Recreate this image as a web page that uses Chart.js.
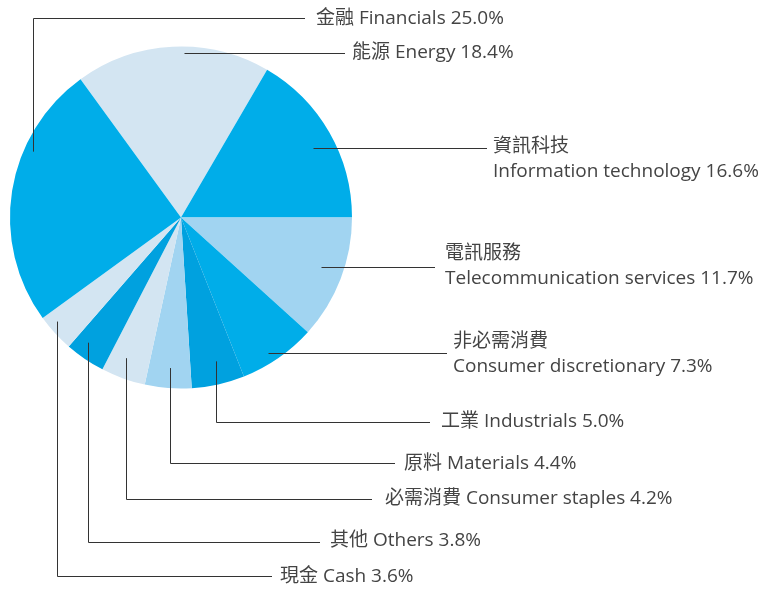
<!DOCTYPE html>
<html>
<head>
<meta charset="utf-8">
<script src="https://cdn.jsdelivr.net/npm/chart.js@4"></script>
<style>
  html, body { margin: 0; padding: 0; background: #fff; }
  #wrap { width: 776px; height: 589px; }
</style>
</head>
<body>
<div id="wrap"><canvas id="js-chart" width="776" height="589"></canvas></div>
<script>
// данные по секторам, по часовой стрелке начиная с Energy
const sectorsZh = ['能源', '資訊科技', '電訊服務', '非必需消費', '工業', '原料', '必需消費', '其他', '現金', '金融'];
const sectorsEn = ['Energy', 'Information technology', 'Telecommunication services', 'Consumer discretionary',
  'Industrials', 'Materials', 'Consumer staples', 'Others', 'Cash', 'Financials'];
const weights = [18.4, 16.6, 11.7, 7.3, 5.0, 4.4, 4.2, 3.8, 3.6, 25.0];

const BRIGHT = '#00ade9';
const DEEP = '#00a1df';
const SOFT = '#a1d4f1';
const PALE = '#d3e5f2';
const colors = [PALE, BRIGHT, SOFT, BRIGHT, DEEP, SOFT, PALE, DEEP, PALE, BRIGHT];

// раскладка подписей: где текст, где линия, откуда тянуть выноску
const labelLayout = [
  { x: 352, y: 53, lineY: 53, lineEnd: 345, frac: 0.96, shift: 4, elbow: false, twoLines: false },
  { x: 493, y: 147, lineY: 148, lineEnd: 487, frac: 0.87, shift: 2, elbow: false, twoLines: true },
  { x: 445, y: 254, lineY: 267, lineEnd: 435, frac: 0.87, shift: -1, elbow: false, twoLines: true },
  { x: 453, y: 342, lineY: 353, lineEnd: 447, frac: 0.94, shift: 2, elbow: false, twoLines: true },
  { x: 441, y: 422, lineY: 422, lineEnd: 430, frac: 0.866, shift: -1.1, elbow: true, twoLines: false },
  { x: 404, y: 464, lineY: 463, lineEnd: 395, frac: 0.883, shift: 0, elbow: true, twoLines: false },
  { x: 385, y: 499, lineY: 499, lineEnd: 372, frac: 0.883, shift: 1.5, elbow: true, twoLines: false },
  { x: 330, y: 541, lineY: 542, lineEnd: 320, frac: 0.912, shift: 2.4, elbow: true, twoLines: false },
  { x: 280, y: 577, lineY: 576, lineEnd: 272, frac: 0.947, shift: 2.5, elbow: true, twoLines: false },
  { x: 316, y: 19, lineY: 18, lineEnd: 305, frac: 0.947, shift: 15, elbow: true, twoLines: false },
];

const FONT = '19px "Open Sans", "Noto Sans CJK TC", sans-serif';

// плагин выносок
const leaderPlugin = {
  id: 'leaders',
  afterDatasetsDraw(chart) {
    const ctx = chart.ctx;
    const arcs = chart.getDatasetMeta(0).data;
    ctx.save();
    ctx.strokeStyle = '#333';
    ctx.lineWidth = 1;
    ctx.fillStyle = '#444';
    ctx.font = FONT;
    ctx.textBaseline = 'middle';
    ctx.textAlign = 'left';
    arcs.forEach((arc, i) => {
      const p = arc.getProps(['x', 'y', 'startAngle', 'endAngle', 'outerRadius'], true);
      const lay = labelLayout[i];
      const mid = (p.startAngle + p.endAngle) / 2 + lay.shift * Math.PI / 180;
      const ax = Math.round(p.x + Math.cos(mid) * p.outerRadius * lay.frac) + 0.5;
      const ay = p.y + Math.sin(mid) * p.outerRadius * lay.frac;
      const ly = Math.round(lay.lineY) + 0.5;
      ctx.beginPath();
      if (lay.elbow) {
        ctx.moveTo(ax, ay);
        ctx.lineTo(ax, ly);
      } else {
        ctx.moveTo(ax, ly);
      }
      ctx.lineTo(lay.lineEnd, ly);
      ctx.stroke();

      const pct = weights[i].toFixed(1) + '%';
      if (lay.twoLines) {
        ctx.fillText(sectorsZh[i], lay.x, lay.y);
        ctx.fillText(sectorsEn[i] + ' ' + pct, lay.x, lay.y + 25);
      } else {
        ctx.fillText(sectorsZh[i] + ' ' + sectorsEn[i] + ' ' + pct, lay.x, lay.y);
      }
    });
    ctx.restore();
  },
};

const ctx = document.querySelector('#js-chart').getContext('2d');

new Chart(ctx, {
  type: 'pie',
  data: {
    labels: sectorsEn,
    datasets: [{
      data: weights,
      backgroundColor: colors,
      borderWidth: 0,
    }],
  },
  options: {
    responsive: false,
    animation: false,
    rotation: -36,
    layout: { padding: { left: 10, top: 46, right: 424, bottom: 200 } },
    plugins: {
      legend: { display: false },
      tooltip: { enabled: false },
    },
  },
  plugins: [leaderPlugin],
});
</script>
</body>
</html>
